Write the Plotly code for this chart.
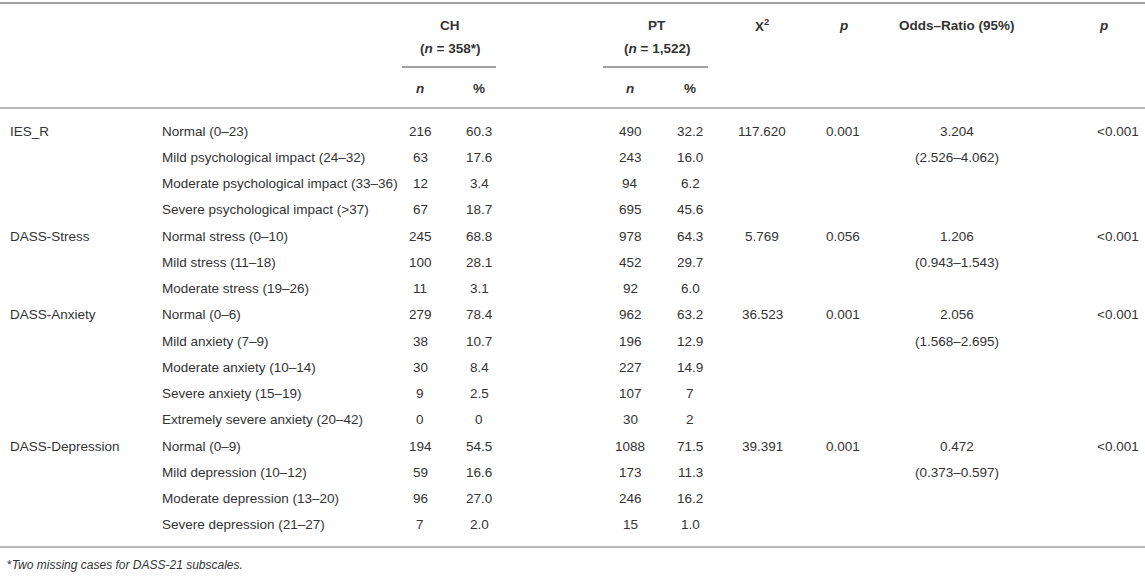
import plotly.graph_objects as go

# 表格数据
scales = ["IES_R", "", "", "", "DASS-Stress", "", "", "DASS-Anxiety", "", "", "", "",
          "DASS-Depression", "", "", ""]
levels = ["Normal (0–23)", "Mild psychological impact (24–32)", "Moderate psychological impact (33–36)",
          "Severe psychological impact (>37)", "Normal stress (0–10)", "Mild stress (11–18)",
          "Moderate stress (19–26)", "Normal (0–6)", "Mild anxiety (7–9)", "Moderate anxiety (10–14)",
          "Severe anxiety (15–19)", "Extremely severe anxiety (20–42)", "Normal (0–9)",
          "Mild depression (10–12)", "Moderate depression (13–20)", "Severe depression (21–27)"]
ch_n = ["216", "63", "12", "67", "245", "100", "11", "279", "38", "30", "9", "0", "194", "59", "96", "7"]
ch_pct = ["60.3", "17.6", "3.4", "18.7", "68.8", "28.1", "3.1", "78.4", "10.7", "8.4", "2.5", "0",
          "54.5", "16.6", "27.0", "2.0"]
pt_n = ["490", "243", "94", "695", "978", "452", "92", "962", "196", "227", "107", "30",
        "1088", "173", "246", "15"]
pt_pct = ["32.2", "16.0", "6.2", "45.6", "64.3", "29.7", "6.0", "63.2", "12.9", "14.9", "7", "2",
          "71.5", "11.3", "16.2", "1.0"]
chi2 = ["117.620", "", "", "", "5.769", "", "", "36.523", "", "", "", "", "39.391", "", "", ""]
p1 = ["0.001", "", "", "", "0.056", "", "", "0.001", "", "", "", "", "0.001", "", "", ""]
odds = ["3.204", "(2.526–4.062)", "", "", "1.206", "(0.943–1.543)", "", "2.056", "(1.568–2.695)", "", "", "",
        "0.472", "(0.373–0.597)", "", ""]
p2 = ["<0.001", "", "", "", "<0.001", "", "", "<0.001", "", "", "", "", "<0.001", "", "", ""]

W, H = 1145, 577
txt = "#333333"
line = "#a0a0a0"
fnt = dict(family="Liberation Sans, Arial, sans-serif", size=13.5, color=txt)

fig = go.Figure()
fig.add_trace(go.Scatter(x=[0, W], y=[0, H], mode="markers", marker=dict(opacity=0),
                         hoverinfo="skip", showlegend=False))

ann = []


def cell(x, y, t, anchor="center", **kw):
    f = dict(fnt)
    f.update(kw)
    ann.append(dict(x=x, y=y, text=t, xref="x", yref="y", showarrow=False,
                    xanchor=anchor, yanchor="middle", font=f))


# 表头
b = lambda s: "<b>" + s + "</b>"
cell(450, 25, b("CH"))
cell(450, 48, b("(<i>n</i> = 358*)"))
cell(657, 25, b("PT"))
cell(657, 48, b("(<i>n</i> = 1,522)"))
cell(762, 25, b("X<sup>2</sup>"))
cell(843, 25, b("<i>p</i>"))
cell(957, 25, b("Odds–Ratio (95%)"))
cell(1103, 25, b("<i>p</i>"))
for cx in [420, 630]:
    cell(cx, 88, b("<i>n</i>"))
for cx in [479, 690]:
    cell(cx, 88, b("%"))

# 数据行
y0, dy = 131, 26.25
cols = [(ch_n, 420), (ch_pct, 479), (pt_n, 630), (pt_pct, 690), (chi2, 762), (p1, 843), (odds, 957)]
for i in range(len(levels)):
    y = y0 + i * dy
    if scales[i]:
        cell(8, y, scales[i], "left")
    cell(160, y, levels[i], "left")
    for vals, cx in cols:
        if vals[i]:
            cell(cx, y, vals[i])
    if p2[i]:
        cell(1141, y, p2[i], "right")

cell(5, 565, "*<i>Two missing cases for DASS-21 subscales.</i>", "left", size=12)

shapes = []
for x0, x1, yy, w in [(0, W, 3, 2), (402, 496, 67, 2), (603, 708, 67, 2), (0, W, 108, 1.5), (0, W, 547, 1.5)]:
    shapes.append(dict(type="line", xref="x", yref="y", x0=x0, x1=x1, y0=yy, y1=yy,
                       line=dict(color=line, width=w)))

fig.update_layout(
    width=W, height=H,
    margin=dict(l=0, r=0, t=0, b=0),
    plot_bgcolor="white", paper_bgcolor="white",
    annotations=ann, shapes=shapes,
    xaxis=dict(range=[0, W], visible=False, fixedrange=True),
    yaxis=dict(range=[H, 0], visible=False, fixedrange=True),
)

fig.write_html("out.html", config={"displayModeBar": False},
               post_script="document.body.style.margin='0';document.body.style.overflow='hidden';")
